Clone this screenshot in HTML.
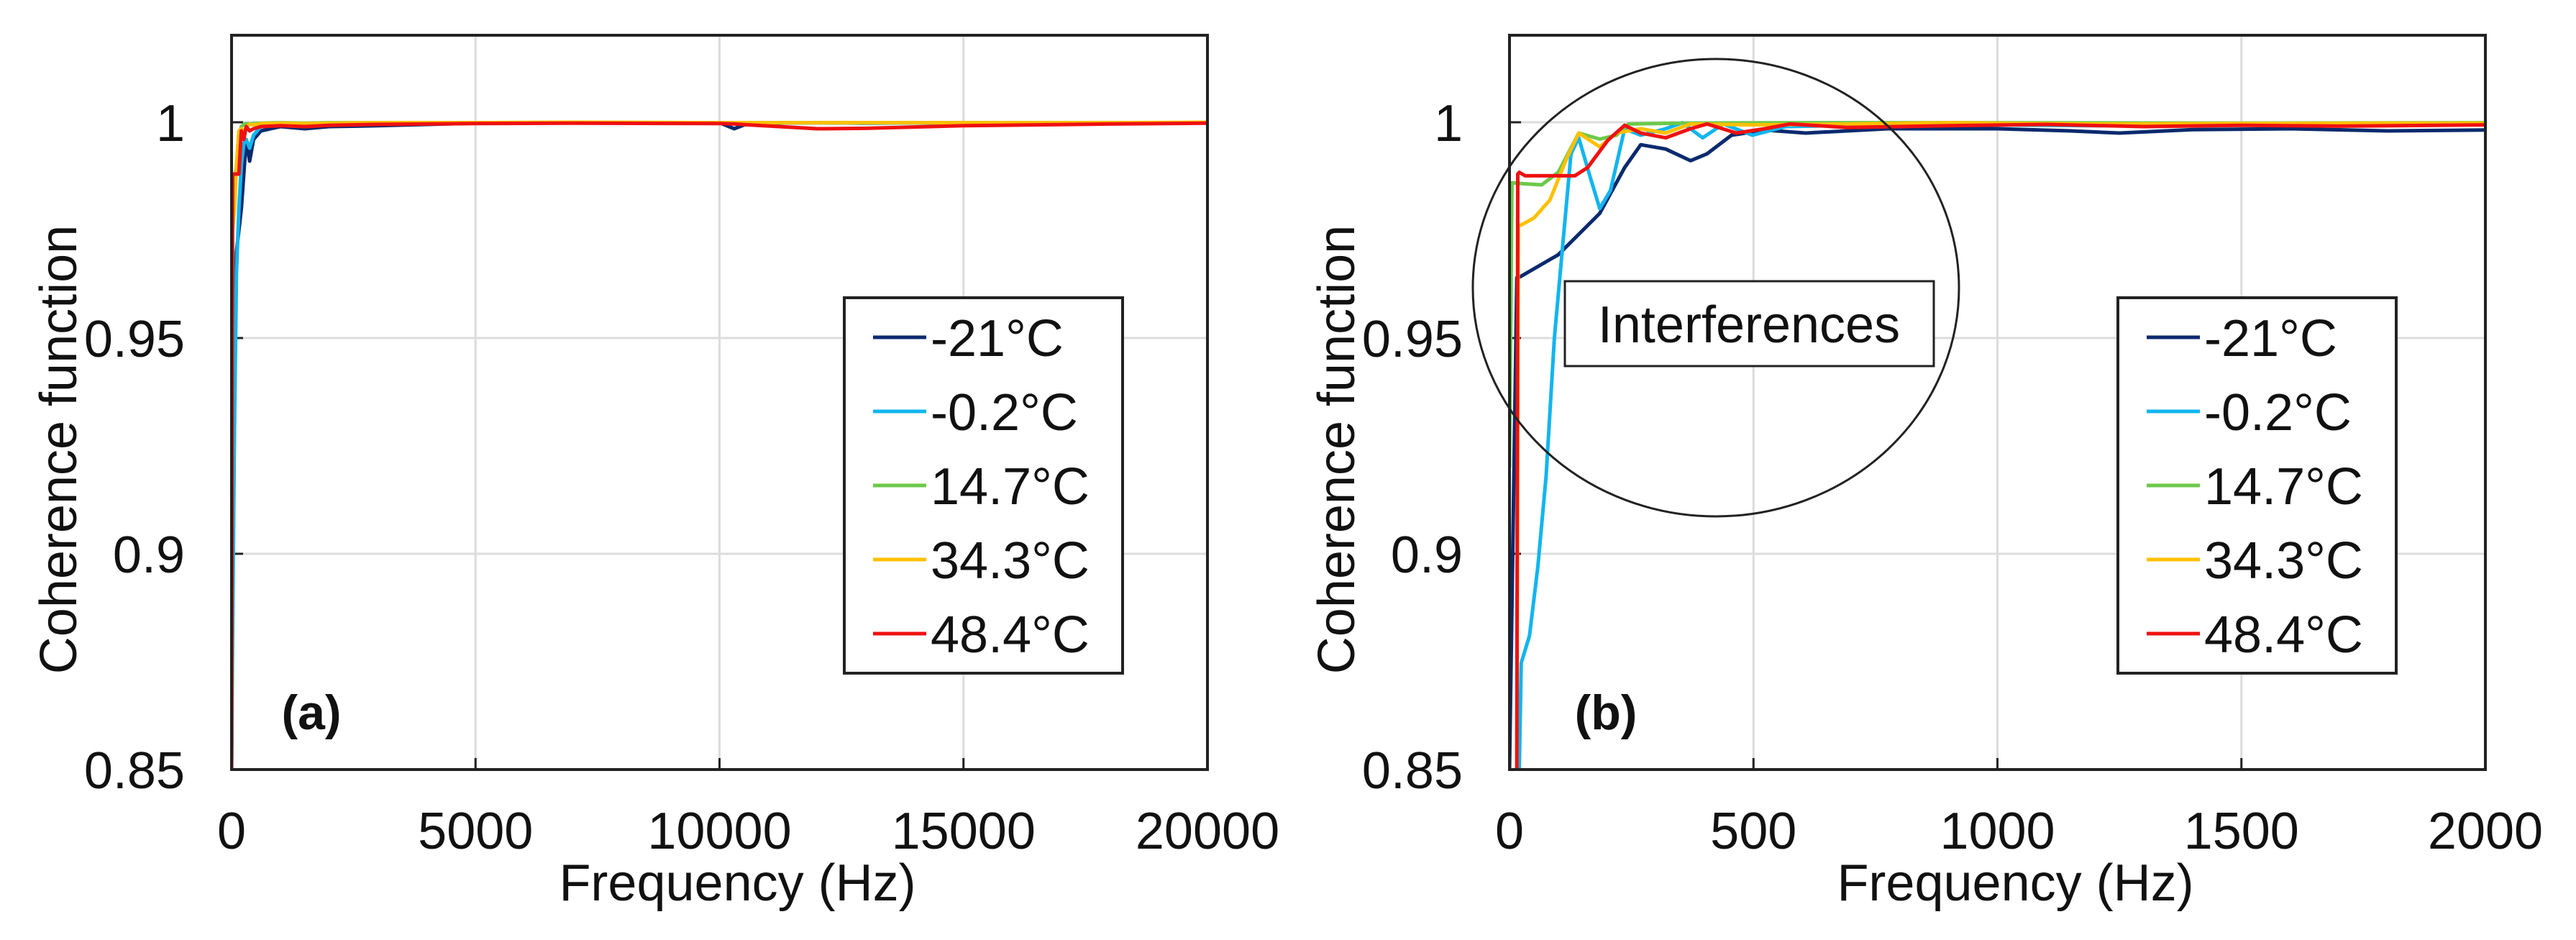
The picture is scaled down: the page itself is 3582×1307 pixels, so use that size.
<!DOCTYPE html>
<html><head><meta charset="utf-8"><style>
html,body{margin:0;padding:0;background:#fff;}
svg{display:block;font-family:"Liberation Sans",Arial,sans-serif;}
</style></head><body>
<svg id="fig" width="3582" height="1307" viewBox="0 0 3582 1307" xmlns="http://www.w3.org/2000/svg">
<rect width="3582" height="1307" fill="#fff"/>
</svg>
<script>
// ---- data ----
const seriesNames = ["-21°C","-0.2°C","14.7°C","34.3°C","48.4°C"];
const seriesColors = ["#0a2a6e","#12b5ee","#6cc94a","#ffc000","#ee1111"];
const yTicks = [0.85,0.9,0.95,1];
const yTickLabels = ["0.85","0.9","0.95","1"];
const xTicksA = [0,5000,10000,15000,20000];
const xTicksB = [0,500,1000,1500,2000];

// Panel (a) frequency grid and values
const freqA = [0,20,60,100,150,200,250,300,370,450,600,1000,1500,2000,3000,4000,5000,7000,10000,10300,10600,12000,13000,15000,18000,20000];
const a_m21 = [0.85,0.90,0.95,0.97,0.975,0.98,0.988,0.996,0.991,0.996,0.998,0.999,0.9985,0.999,0.9992,0.9995,0.9998,0.9999,0.9999,0.9985,0.9998,0.9999,0.9998,0.9999,0.9998,0.9999];
const a_m02 = [0.85,0.88,0.93,0.965,0.98,0.99,0.995,0.996,0.994,0.997,0.999,0.9995,0.9993,0.9995,0.9996,0.9997,0.9998,0.9999,0.9999,0.9998,0.9999,0.9999,0.9998,0.9999,0.9999,0.9999];
const a_147 = [0.92,0.985,0.986,0.99,0.997,0.999,0.9995,0.9997,0.9996,0.9997,0.9998,0.9999,0.9998,0.9999,0.9999,0.9999,0.9999,1.0,0.9999,0.9999,0.9999,0.9999,0.9999,0.9999,0.9999,0.9999];
const a_343 = [0.85,0.975,0.98,0.99,0.998,0.9985,0.9975,0.999,0.9995,0.9994,0.9997,0.9998,0.9997,0.9998,0.9999,0.9999,0.9999,1.0,0.9999,0.9999,0.9999,0.9999,0.9999,0.9999,0.9999,1.0];
const a_484 = [0.85,0.988,0.988,0.988,0.988,0.998,0.996,0.999,0.998,0.9985,0.999,0.9992,0.999,0.9993,0.9995,0.9996,0.9997,0.9998,0.9997,0.9996,0.9994,0.9985,0.9986,0.9992,0.9996,0.9998];

// Panel (b) per-series frequencies & values
const b_m21_f = [0,15,22,100,185,236,269,320,371,405,455,523,607,776,1000,1150,1250,1400,1600,1800,2000];
const b_m21_v = [0.85,0.964,0.9642,0.9693,0.9789,0.9895,0.9948,0.9938,0.9911,0.9927,0.997,0.9982,0.9975,0.9985,0.9985,0.998,0.9975,0.9983,0.9985,0.998,0.9982];
const b_m02_f = [20,24,41,58,75,92,109,126,142,165,185,207,236,269,320,354,396,438,498,566,700,900,1200,1500,1800,2000];
const b_m02_v = [0.85,0.8747,0.881,0.897,0.918,0.950,0.9715,0.9927,0.9964,0.9874,0.980,0.9842,0.9985,0.997,0.9985,0.9999,0.9964,0.9996,0.997,0.999,0.9993,0.9995,0.9992,0.9995,0.9993,0.9995];
const b_147_f = [0,5,24,66,100,142,185,219,244,350,600,1000,1500,2000];
const b_147_v = [0.92,0.986,0.9858,0.9855,0.9884,0.9975,0.9961,0.997,0.9996,0.9998,0.9999,0.9999,0.9998,0.9999];
const b_343_f = [15,18,24,50,83,117,142,185,219,269,320,371,500,700,900,1200,1500,1800,2000];
const b_343_v = [0.85,0.976,0.9762,0.9778,0.982,0.9916,0.9975,0.9943,0.9975,0.9985,0.9975,0.9996,0.9994,0.9996,0.9999,0.9996,0.9997,0.9998,0.9998];
const b_484_f = [15,17,20,32,134,160,202,236,269,320,371,405,465,523,574,692,900,1100,1300,1500,1700,2000];
const b_484_v = [0.85,0.988,0.9884,0.9876,0.9876,0.9895,0.9959,0.9993,0.9975,0.9964,0.9985,0.9996,0.9975,0.9985,0.9996,0.9988,0.9992,0.9995,0.999,0.9993,0.9991,0.9994];

const NS = "http://www.w3.org/2000/svg";
const svg = document.getElementById('fig');
function mk(tag, attrs, parent){
  const e = document.createElementNS(NS, tag);
  for (const k in attrs) e.setAttribute(k, attrs[k]);
  (parent||svg).appendChild(e);
  return e;
}

const TOP=49, BOT=1070, YMIN=0.85, YMAX=1.0;
const yTop1 = 170;
function yScale(v){ return yTop1 + (YMAX - v)/(YMAX-YMIN)*(BOT-yTop1); }

function panel(L, R, xMax, xTicks, letter, legL, seriesList, id){
  const g = mk('g', {});
  
  
  const xs = f => L + f/xMax*(R-L);
  // grid
  xTicks.forEach((t,i)=>{ if(i>0 && i<xTicks.length-1){
    const ln = mk('line',{x1:xs(t),x2:xs(t),y1:TOP,y2:BOT,stroke:'#dcdcdc','stroke-width':3},g);
    
    
  }});
  yTicks.forEach((t,i)=>{ if(i>0){
    const ln = mk('line',{x1:L,x2:R,y1:yScale(t),y2:yScale(t),stroke:'#dcdcdc','stroke-width':3},g);
    
    
  }});
  // tick marks
  xTicks.forEach(t=>{
    const tk = mk('line',{x1:xs(t),x2:xs(t),y1:BOT-16,y2:BOT,stroke:'#222','stroke-width':3},g);
    
    
  });
  yTicks.forEach(t=>{
    const tk = mk('line',{x1:L,x2:L+16,y1:yScale(t),y2:yScale(t),stroke:'#222','stroke-width':3},g);
    
    
  });
  // series
  const clip = mk('clipPath',{id:'clip-'+id},g);
  mk('rect',{x:L,y:TOP,width:R-L,height:BOT-TOP},clip);
  const sg = mk('g',{'clip-path':'url(#clip-'+id+')'},g);
  seriesList.forEach((s,i)=>{
    const pts = s.f.map((f,k)=> xs(f).toFixed(1)+','+yScale(s.v[k]).toFixed(1)).join(' ');
    const pl = mk('polyline',{points:pts,fill:'none',stroke:seriesColors[i],'stroke-width':5,'stroke-linejoin':'round'},sg);
    
    
  });
  // frame
  const fr = mk('rect',{x:L,y:TOP,width:R-L,height:BOT-TOP,fill:'none',stroke:'#222','stroke-width':4},g);
  
  
  // tick labels
  yTicks.forEach((t,i)=>{
    const tx = mk('text',{x:L-65,y:yScale(t)+26,'font-size':72,'text-anchor':'end',fill:'#111'},g);
    tx.textContent = yTickLabels[i];
    
    
  });
  xTicks.forEach(t=>{
    const tx = mk('text',{x:xs(t),y:1180,'font-size':72,'text-anchor':'middle',fill:'#111'},g);
    tx.textContent = String(t);
    
    
  });
  // axis titles
  const xt = mk('text',{x:(L+R)/2+25,y:1252,'font-size':72,'text-anchor':'middle',fill:'#111'},g);
  xt.textContent = 'Frequency (Hz)';
  
  
  const yx = L-240, yy = 625;
  const yt = mk('text',{x:yx,y:yy,'font-size':72,'text-anchor':'middle','dominant-baseline':'central',fill:'#111',transform:'rotate(-90 '+yx+' '+yy+')'},g);
  yt.textContent = 'Coherence function';
  
  
  // panel letter
  const pl = mk('text',{x:L+(id==='a'?111:134),y:1014,'font-size':68,'font-weight':'bold','text-anchor':'middle',fill:'#111'},g);
  pl.textContent = '('+letter+')';
  
  
  // legend
  const lg = mk('g',{},g);
  
  
  const lw = 387;
  mk('rect',{x:legL,y:414,width:lw,height:522,fill:'#fff',stroke:'#222','stroke-width':4},lg);
  seriesNames.forEach((n,i)=>{
    const cy = 469 + i*103;
    const e = mk('g',{},lg);
    
    
    mk('line',{x1:legL+40,x2:legL+114,y1:cy,y2:cy,stroke:seriesColors[i],'stroke-width':5},e);
    const t = mk('text',{x:legL+120,y:cy+26,'font-size':72,fill:'#111'},e);
    t.textContent = n;
  });
  return g;
}

panel(322,1679,20000,xTicksA,'a',1174,[
  {f:freqA,v:a_m21},{f:freqA,v:a_m02},{f:freqA,v:a_147},{f:freqA,v:a_343},{f:freqA,v:a_484}
],'a');
panel(2099,3456,2000,xTicksB,'b',2945,[
  {f:b_m21_f,v:b_m21_v},{f:b_m02_f,v:b_m02_v},{f:b_147_f,v:b_147_v},{f:b_343_f,v:b_343_v},{f:b_484_f,v:b_484_v}
],'b');

// annotation
const el = mk('ellipse',{cx:2386,cy:400,rx:338,ry:318,fill:'none',stroke:'#222','stroke-width':3});


const ib = mk('g',{});


mk('rect',{x:2176,y:391,width:513,height:118,fill:'#fff',stroke:'#222','stroke-width':3},ib);
const it = mk('text',{x:2432,y:476,'font-size':72,'text-anchor':'middle',fill:'#111'},ib);
it.textContent = 'Interferences';
</script>
</body></html>
